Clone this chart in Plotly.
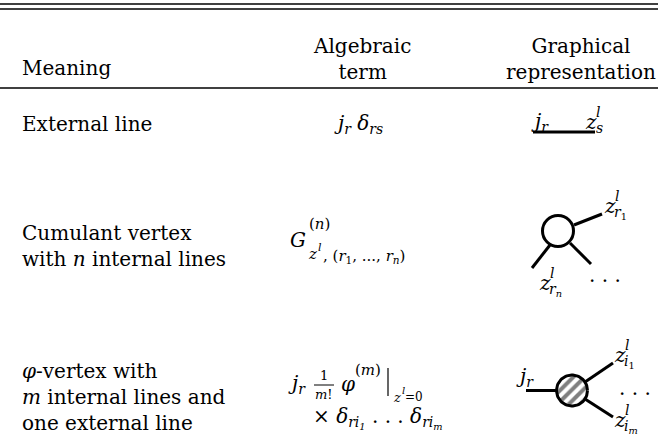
import numpy as np
import plotly.graph_objects as go

# table text
header_cols = ["Meaning", "Algebraic<br>term", "Graphical<br>representation"]
meanings = [
    "External line",
    "Cumulant vertex<br>with <i>n</i> internal lines",
    "<i>φ</i>-vertex with<br><i>m</i> internal lines and<br>one external line",
]
row_y = [124, 246, 397]

FONT = "DejaVu Serif"
FS = 20
BLACK = "black"

fig = go.Figure()


def txt(x, y, s, size=FS, anchor="left", yanchor="middle"):
    fig.add_annotation(x=x, y=y, text=s, showarrow=False, xanchor=anchor, yanchor=yanchor,
                       font=dict(family=FONT, size=size, color=BLACK), align=anchor)


def seg(x0, y0, x1, y1, w=3):
    fig.add_shape(type="line", x0=x0, y0=y0, x1=x1, y1=y1,
                  line=dict(color=BLACK, width=w))


# rules
seg(0, 4, 658, 4, 1.6)
seg(0, 9, 658, 9, 1.6)
seg(0, 88, 658, 88, 1.4)

# headers
txt(20, 68, header_cols[0])
txt(362, 59, header_cols[1], anchor="center")
txt(581, 59, header_cols[2], anchor="center")

# meaning column
for m, y in zip(meanings, row_y):
    txt(20, y, m)

# algebraic terms
txt(358, 124, "<i>j<sub>r</sub> δ<sub>rs</sub></i>", anchor="center")

txt(288, 240, "<i>G</i>")
txt(307, 224, "(<i>n</i>)", size=15)
txt(306, 254, "<i>z</i>", size=15)
txt(316, 247, "<i>l</i>", size=11)
txt(321, 256, ", (<i>r</i><sub>1</sub>, ..., <i>r<sub>n</sub></i>)", size=15)

txt(286, 384, "<i>j<sub>r</sub></i>")
txt(324, 375, "1", size=13, anchor="center")
seg(314, 385, 334, 385, 1)
txt(324, 394, "<i>m</i>!", size=13, anchor="center")
txt(339, 384, "<i>φ</i>")
txt(353, 370, "(<i>m</i>)", size=15)
seg(388, 368, 388, 396, 1.2)
txt(391, 397, "<i>z</i>", size=13)
txt(400, 390, "<i>l</i>", size=10)
txt(403, 397, "=0", size=12)
txt(311, 418, "× <i>δ</i><sub><i>ri<sub>1</sub></i></sub> . . . <i>δ</i><sub><i>ri<sub>m</sub></i></sub>")

# external line diagram
txt(529, 122, "<i>j<sub>r</sub></i>")
txt(583, 122, "<i>z</i>")
txt(594, 112, "<i>l</i>", size=14)
txt(594, 128, "<i>s</i>", size=14)
seg(533, 132, 595, 132)

# cumulant vertex diagram
cx, cy, r = 558, 231, 15.5
fig.add_shape(type="circle", x0=cx - r, y0=cy - r, x1=cx + r, y1=cy + r,
              line=dict(color=BLACK, width=3), fillcolor="white")
seg(574, 225, 602, 214)
seg(550, 245, 532, 268)
seg(570, 243, 591, 264)
txt(602, 206, "<i>z</i>")
txt(613, 196, "<i>l</i>", size=14)
txt(612, 213, "<i>r</i><sub>1</sub>", size=14)
txt(537, 283, "<i>z</i>")
txt(548, 273, "<i>l</i>", size=14)
txt(547, 290, "<i>r<sub>n</sub></i>", size=14)
txt(587, 275, ". . .")

# phi vertex diagram
hx, hy = 572, 390.5
t = np.linspace(0, 2 * np.pi, 80)
fig.add_trace(go.Scatter(x=hx + r * np.cos(t), y=hy + r * np.sin(t), mode="lines",
                         fill="toself", fillcolor="white",
                         fillpattern=dict(shape="/", size=8, solidity=0.5, fgcolor=BLACK, bgcolor="white"),
                         line=dict(color=BLACK, width=3), hoverinfo="skip", showlegend=False))
seg(526, 390.5, 556, 390.5)
seg(585, 382, 613, 363)
seg(585, 399, 613, 417)
txt(514, 377, "<i>j<sub>r</sub></i>")
txt(612, 355, "<i>z</i>")
txt(623, 345, "<i>l</i>", size=14)
txt(622, 362, "<i>i</i><sub>1</sub>", size=14)
txt(617, 388, ". . .")
txt(612, 420, "<i>z</i>")
txt(623, 410, "<i>l</i>", size=14)
txt(622, 427, "<i>i<sub>m</sub></i>", size=14)

fig.update_xaxes(range=[0, 658], visible=False, fixedrange=True)
fig.update_yaxes(range=[448, 0], visible=False, fixedrange=True)
fig.update_layout(width=658, height=448, margin=dict(l=0, r=0, t=0, b=0),
                  plot_bgcolor="white", paper_bgcolor="white", showlegend=False)

fig.write_html("out.html", config={"staticPlot": True},
               post_script="document.body.style.margin='0';")
